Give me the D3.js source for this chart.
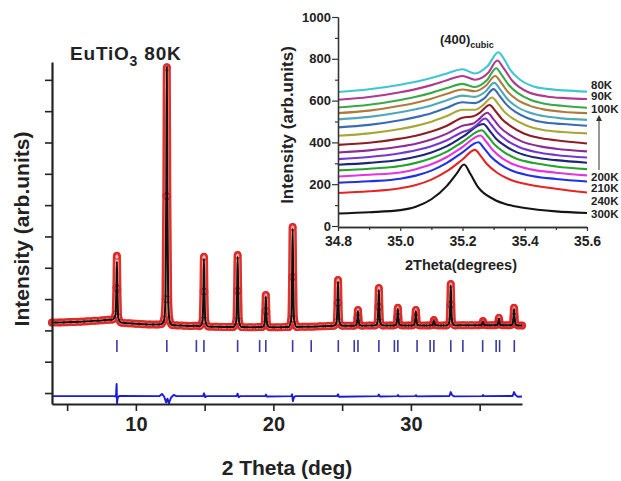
<!DOCTYPE html>
<html><head><meta charset="utf-8">
<script src="https://cdn.jsdelivr.net/npm/d3@7"></script>
<style>
html,body{margin:0;padding:0;background:#fff;}
svg{display:block;font-family:"Liberation Sans",Arial,Helvetica,sans-serif;font-weight:bold;}
</style></head><body>
<svg id="chart" width="621" height="481"></svg>
<script>
// ---------- Main pattern: EuTiO3 80K (Rietveld fit) ----------
const twoTheta = [
 3.9,4.5,5.0,5.5,6.0,6.5,7.0,7.5,8.0,
 8.32,8.52,8.58,8.62,8.66,8.72,8.92,
 9.5,10.0,10.5,11.0,11.5,
 11.85,12.05,12.15,12.21,12.25,12.29,12.35,12.45,12.65,
 13.0,13.5,14.0,14.4,
 14.65,14.85,14.91,14.95,14.99,15.05,15.25,
 15.8,16.4,16.9,
 17.1,17.3,17.36,17.4,17.44,17.5,17.7,
 18.3,18.9,
 19.15,19.35,19.41,19.45,19.49,19.55,19.75,
 20.3,20.8,
 21.1,21.3,21.36,21.4,21.44,21.5,21.7,
 22.3,22.8,23.4,24.0,
 24.4,24.6,24.66,24.7,24.74,24.8,25.0,
 25.5,
 25.85,26.05,26.11,26.15,26.19,26.25,26.45,
 27.0,
 27.37,27.57,27.63,27.67,27.71,27.77,27.97,
 28.5,
 28.75,28.95,29.01,29.05,29.09,29.15,29.35,
 29.85,
 30.06,30.26,30.32,30.36,30.40,30.46,30.66,
 31.2,
 31.37,31.57,31.63,31.67,31.71,31.77,31.97,
 32.4,
 32.6,32.8,32.86,32.9,32.94,33.0,33.2,
 33.8,34.4,
 34.94,35.14,35.2,35.24,35.28,35.34,35.54,
 35.9,
 36.1,36.3,36.36,36.4,36.44,36.5,36.7,
 37.0,
 37.2,37.4,37.46,37.5,37.54,37.6,37.8,
 38.08];
const obsI = [
 2250,2255,2262,2270,2280,2292,2305,2320,2340,
 2350,2512,3365,4380,3315,2420,2250,
 2225,2210,2200,2190,2185,
 2200,2350,3000,6290,10400,6280,2980,2330,2170,
 2160,2150,2140,2150,
 2135,2312,3242,4350,3237,2303,2125,
 2115,2110,2110,
 2110,2294,3260,4410,3257,2289,2105,
 2100,2105,
 2105,2187,2617,3130,2615,2182,2100,
 2100,2105,
 2105,2361,3702,5300,3705,2365,2110,
 2115,2120,2130,2140,
 2145,2262,2877,3610,2880,2267,2150,
 2150,
 2150,2190,2400,2650,2400,2190,2150,
 2155,
 2155,2250,2752,3350,2752,2250,2155,
 2160,
 2160,2205,2440,2720,2440,2205,2160,
 2160,
 2160,2199,2405,2650,2405,2199,2160,
 2160,
 2160,2174,2245,2330,2245,2174,2160,
 2160,
 2160,2266,2820,3480,2820,2266,2160,
 2165,2165,
 2165,2176,2232,2300,2232,2176,2165,
 2165,
 2165,2184,2282,2400,2282,2184,2165,
 2165,
 2165,2209,2442,2720,2442,2209,2160,
 2155];
const calcI = [
 2250,2255,2262,2270,2280,2292,2305,2320,2340,
 2350,2497,3270,4190,3220,2405,2250,
 2225,2210,2200,2190,2185,
 2200,2330,2950,6270,10420,6260,2950,2310,2170,
 2160,2150,2140,2150,
 2135,2307,3212,4290,3207,2298,2125,
 2115,2110,2110,
 2110,2289,3230,4350,3227,2285,2105,
 2100,2105,
 2105,2183,2592,3080,2590,2178,2100,
 2100,2105,
 2105,2357,3677,5250,3680,2361,2110,
 2115,2120,2130,2140,
 2145,2258,2852,3560,2855,2263,2150,
 2150,
 2150,2188,2385,2620,2385,2188,2150,
 2155,
 2155,2246,2727,3300,2727,2246,2155,
 2160,
 2160,2202,2425,2690,2425,2202,2160,
 2160,
 2160,2196,2390,2620,2390,2196,2160,
 2160,
 2160,2172,2235,2310,2235,2172,2160,
 2160,
 2160,2262,2800,3440,2800,2262,2160,
 2165,2165,
 2165,2174,2222,2280,2222,2174,2165,
 2165,
 2165,2181,2267,2370,2267,2181,2165,
 2165,
 2165,2206,2422,2680,2422,2206,2160,
 2155];
const diffX = [3.9,8.4,8.55,8.6,8.63,8.68,8.8,11.7,11.9,12.05,12.2,12.3,12.4,12.55,12.75,12.95,
 14.88,14.96,15.04,15.14,17.32,17.4,17.48,17.58,19.4,19.46,19.52,21.3,21.36,21.42,21.5,21.6,
 24.62,24.7,24.78,27.6,27.67,27.75,29.0,29.06,29.12,30.3,30.37,30.44,32.8,32.9,33.0,33.15,
 35.18,35.24,35.3,37.4,37.5,37.62,37.78,38.08];
const diffI = [-100,-100,-110,290,-330,-140,-95,-100,-30,-110,-300,-180,-330,-150,-60,-100,
 -100,-10,-130,-100,-100,-20,-130,-100,-100,-50,-110,-100,-40,-260,-130,-100,
 -100,-40,-120,-100,-50,-110,-100,-60,-105,-100,-70,-105,-95,30,-70,-105,
 -100,-60,-100,-95,30,-70,-120,-110];
const braggPos = [8.62,12.25,14.4,14.95,17.4,19.0,19.45,21.4,22.75,24.72,25.88,26.15,27.67,
 28.8,29.05,30.45,31.4,31.67,32.9,33.78,35.22,36.2,36.45,37.52];
const mainXTicks = [5,10,15,20,25,30,35];
const mainYTicks = [0,1000,2000,3000,4000,5000,6000,7000,8000,9000,10000];

// ---------- Inset: (400) cubic reflection vs temperature ----------
const s300 = [[34.8,60],[34.9,66],[35.0,76],[35.05,92],[35.1,128],[35.15,192],[35.18,248],[35.205,294],[35.225,250],[35.25,186],[35.3,128],[35.35,100],[35.4,86],[35.5,70],[35.6,62]];
const s240 = [[34.8,158],[34.9,166],[35.0,181],[35.05,196],[35.1,222],[35.15,262],[35.2,318],[35.24,364],[35.26,332],[35.28,294],[35.31,256],[35.35,224],[35.4,202],[35.5,178],[35.6,160]];
const s210 = [[34.8,207],[34.9,214],[35.0,226],[35.05,241],[35.1,265],[35.15,302],[35.2,352],[35.251,401],[35.27,370],[35.29,334],[35.32,296],[35.36,264],[35.41,243],[35.5,225],[35.6,213]];
const s200 = [[34.8,237],[34.9,245],[35.0,256],[35.05,272],[35.1,295],[35.15,330],[35.2,378],[35.257,433],[35.277,402],[35.297,364],[35.327,325],[35.367,293],[35.42,271],[35.5,255],[35.6,242]];
const s190 = [[34.8,266],[34.9,274],[35.0,287],[35.05,302],[35.1,324],[35.15,356],[35.2,402],[35.262,458],[35.282,428],[35.302,391],[35.332,355],[35.372,323],[35.43,301],[35.5,285],[35.6,272]];
const s180 = [[34.8,293],[34.9,302],[35.0,317],[35.05,331],[35.1,352],[35.15,382],[35.2,426],[35.267,488],[35.287,456],[35.307,419],[35.337,383],[35.377,351],[35.43,329],[35.5,315],[35.6,303]];
const s170 = [[34.8,320],[34.9,330],[35.0,348],[35.05,362],[35.1,382],[35.15,410],[35.2,450],[35.225,462],[35.243,480],[35.273,514],[35.293,483],[35.313,446],[35.343,409],[35.383,377],[35.44,353],[35.5,340],[35.6,328]];
const s160 = [[34.8,352],[34.9,362],[35.0,380],[35.05,394],[35.1,414],[35.15,442],[35.2,480],[35.235,490],[35.25,507],[35.28,542],[35.3,510],[35.32,473],[35.35,437],[35.39,405],[35.45,381],[35.5,370],[35.6,357]];
const s150 = [[34.8,388],[34.9,398],[35.0,418],[35.05,432],[35.1,452],[35.15,480],[35.2,518],[35.235,525],[35.257,544],[35.287,579],[35.307,548],[35.327,511],[35.357,476],[35.397,443],[35.45,421],[35.5,410],[35.6,395]];
const s140 = [[34.8,432],[34.9,443],[35.0,464],[35.05,479],[35.1,499],[35.15,526],[35.2,556],[35.24,556],[35.265,577],[35.295,615],[35.315,583],[35.335,546],[35.365,511],[35.405,481],[35.46,459],[35.52,450],[35.6,443]];
const s130 = [[34.8,472],[34.9,484],[35.0,506],[35.05,521],[35.1,540],[35.15,566],[35.2,592],[35.24,588],[35.27,611],[35.3,655],[35.32,621],[35.34,583],[35.37,546],[35.41,516],[35.46,496],[35.52,488],[35.6,480]];
const s120 = [[34.8,510],[34.9,522],[35.0,544],[35.05,559],[35.1,577],[35.15,602],[35.2,624],[35.24,618],[35.272,641],[35.302,685],[35.322,651],[35.342,611],[35.372,573],[35.412,544],[35.46,526],[35.52,515],[35.6,508]];
const s110 = [[34.8,540],[34.9,552],[35.0,575],[35.05,590],[35.1,609],[35.15,633],[35.2,653],[35.24,645],[35.275,671],[35.305,718],[35.325,684],[35.345,643],[35.375,605],[35.415,576],[35.46,558],[35.52,547],[35.6,540]];
const s100 = [[34.8,567],[34.9,580],[35.0,603],[35.05,618],[35.1,637],[35.15,660],[35.2,680],[35.24,665],[35.278,697],[35.308,755],[35.328,718],[35.348,676],[35.378,636],[35.418,604],[35.46,586],[35.52,575],[35.6,566]];
const s90 = [[34.8,604],[34.9,617],[35.0,640],[35.05,655],[35.1,674],[35.15,697],[35.2,718],[35.24,700],[35.282,732],[35.312,792],[35.332,755],[35.36,695],[35.41,641],[35.47,620],[35.53,612],[35.6,608]];
const s80 = [[34.8,641],[34.9,654],[35.0,676],[35.05,690],[35.1,708],[35.15,730],[35.2,750],[35.24,730],[35.28,764],[35.315,831],[35.335,795],[35.353,748],[35.385,700],[35.428,668],[35.47,656],[35.525,649],[35.6,643]];
const insetTemps = ['300K','240K','210K','200K','190K','180K','170K','160K','150K','140K','130K','120K','110K','100K','90K','80K'];
const insetData = [s300,s240,s210,s200,s190,s180,s170,s160,s150,s140,s130,s120,s110,s100,s90,s80];
const insetColors = ['#141414','#e62424','#2030e6','#e434e0','#24a42c','#1e2478','#7438d0','#8e2c94','#8e1e26','#a8a634','#3a6cb2','#4fa8b8','#b07a3a','#3aa84a','#b03a8c','#3ec6d2'];
const insetXTicks = [34.8,35.0,35.2,35.4,35.6];
const insetXMinor = [34.9,35.1,35.3,35.5];
const insetYTicks = [0,200,400,600,800,1000];
const insetYMinor = [100,300,500,700,900];
const shownLabels = ['80K','90K','100K','200K','210K','240K','300K'];

// ---------- drawing ----------
const svg = d3.select('#chart');
svg.append('rect').attr('width',621).attr('height',481).attr('fill','#fff');

const x = d3.scaleLinear().domain([3.9, 38.08]).range([52, 522]);
const y = d3.scaleLinear().domain([-350, 10570]).range([404, 62]);
const line = d3.line().x(d=>x(d[0])).y(d=>y(d[1])).curve(d3.curveMonotoneX);

const main = svg.append('g');
const obsPts = twoTheta.map((t,i)=>[t, obsI[i]]);
const calcPts = twoTheta.map((t,i)=>[t, calcI[i]]);

main.append('path').attr('d', line(obsPts)).attr('fill','none')
  .attr('stroke','#e3302b').attr('stroke-width',8).attr('stroke-linejoin','round').attr('stroke-linecap','round');
main.append('path').attr('d', line(obsPts)).attr('fill','none')
  .attr('stroke','#f6b8b2').attr('stroke-width',3).attr('stroke-linejoin','round');
main.append('g').selectAll('circle').data(obsPts).join('circle')
  .attr('cx',d=>x(d[0])).attr('cy',d=>y(d[1])).attr('r',3.4)
  .attr('fill','none').attr('stroke','#d8262a').attr('stroke-width',1);
main.append('path').attr('d', line(calcPts)).attr('fill','none')
  .attr('stroke','#111').attr('stroke-width',2).attr('stroke-linejoin','round');

main.append('g').selectAll('line').data(braggPos).join('line')
  .attr('x1',d=>x(d)).attr('x2',d=>x(d)).attr('y1',y(1690)).attr('y2',y(1310))
  .attr('stroke','#3a3aa6').attr('stroke-width',1.6);

const diffLine = d3.line().x((d,i)=>x(diffX[i])).y(d=>y(d));
main.append('path').attr('d', diffLine(diffI)).attr('fill','none')
  .attr('stroke','#1c1cd6').attr('stroke-width',1.9).attr('stroke-linejoin','round');

// main axes
const ax = main.append('g').attr('transform','translate(0,404)')
  .call(d3.axisBottom(x).tickValues(mainXTicks).tickFormat(d=> d%10===0 ? d : '').tickSize(7).tickSizeOuter(0).tickPadding(6));
const ay = main.append('g').attr('transform','translate(52,0)')
  .call(d3.axisLeft(y).tickValues(mainYTicks).tickFormat('').tickSize(7).tickSizeOuter(0));
[ax,ay].forEach(a=>{
  a.select('.domain').attr('stroke','#222').attr('stroke-width',2.2);
  a.selectAll('.tick line').attr('stroke','#222').attr('stroke-width',1.6);
  a.selectAll('text').attr('fill','#222').style('font-size','20px').style('font-weight','bold')
   .style('font-family','"Liberation Sans",Arial,sans-serif');
});

main.append('text').attr('x',287).attr('y',475).attr('text-anchor','middle')
  .attr('fill','#222').style('font-size','21px').text('2 Theta (deg)');
main.append('text').attr('transform','translate(29,229) rotate(-90)').attr('text-anchor','middle')
  .attr('fill','#222').style('font-size','21px').text('Intensity (arb.units)');
const title = main.append('text').attr('x',70).attr('y',60).attr('fill','#222')
  .style('font-size','19px').style('letter-spacing','0.8px');
title.append('tspan').text('EuTiO');
title.append('tspan').attr('dy',6).style('font-size','14px').text('3');
title.append('tspan').attr('dy',-6).text(' 80K');

// ---------- inset ----------
const ix = d3.scaleLinear().domain([34.8, 35.6]).range([338, 587]);
const iy = d3.scaleLinear().domain([0, 1000]).range([226, 17]);
const iline = d3.line().x(d=>ix(d[0])).y(d=>iy(d[1])).curve(d3.curveMonotoneX);
const inset = svg.append('g');

inset.selectAll('path.curve').data(insetData).join('path').attr('class','curve')
  .attr('d', d=>iline(d)).attr('fill','none')
  .attr('stroke',(d,i)=>insetColors[i]).attr('stroke-width',2.1).attr('stroke-linejoin','round');

const iax = inset.append('g').attr('transform','translate(0,227)')
  .call(d3.axisBottom(ix).tickValues(insetXTicks).tickFormat(d3.format('.1f')).tickSize(4).tickSizeOuter(0).tickPadding(5));
const iaxm = inset.append('g').attr('transform','translate(0,227)')
  .call(d3.axisBottom(ix).tickValues(insetXMinor).tickFormat('').tickSize(3).tickSizeOuter(0));
const iay = inset.append('g').attr('transform','translate(338,0)')
  .call(d3.axisLeft(iy).tickValues(insetYTicks).tickFormat(d3.format('d')).tickSize(6).tickSizeOuter(0).tickPadding(1));
const iaym = inset.append('g').attr('transform','translate(338,0)')
  .call(d3.axisLeft(iy).tickValues(insetYMinor).tickFormat('').tickSize(3).tickSizeOuter(0));
[iax,iaxm,iay,iaym].forEach(a=>{
  a.select('.domain').attr('stroke','#333').attr('stroke-width',1.3);
  a.selectAll('.tick line').attr('stroke','#333').attr('stroke-width',1.2);
  a.selectAll('text').attr('fill','#222').style('font-weight','bold')
   .style('font-family','"Liberation Sans",Arial,sans-serif');
});
iax.selectAll('text').style('font-size','14px');
iay.selectAll('text').style('font-size','13px');

inset.append('text').attr('x',461).attr('y',270).attr('text-anchor','middle')
  .attr('fill','#222').style('font-size','14.5px').text('2Theta(degrees)');
inset.append('text').attr('transform','translate(293,125) rotate(-90)').attr('text-anchor','middle')
  .attr('fill','#222').style('font-size','17px').text('Intensity (arb.units)');
const it = inset.append('text').attr('x',440).attr('y',44).attr('fill','#222').style('font-size','13px');
it.append('tspan').text('(400)');
it.append('tspan').attr('dy',4).style('font-size','9px').text('cubic');

// temperature labels at right end
const labelY = {'80K':85,'90K':96,'100K':109,'200K':177,'210K':188,'240K':201,'300K':214};
inset.selectAll('text.tl').data(shownLabels).join('text').attr('class','tl')
  .attr('x',591).attr('y',d=>labelY[d]+4).attr('fill','#222').style('font-size','11.5px')
  .text(d=>d);
svg.append('defs').append('marker').attr('id','ah').attr('viewBox','0 0 10 10')
  .attr('refX',5).attr('refY',5).attr('markerWidth',6).attr('markerHeight',7).attr('orient','auto')
  .append('path').attr('d','M0,0 L10,5 L0,10 Z').attr('fill','#333');
inset.append('line').attr('x1',599).attr('x2',599).attr('y1',170).attr('y2',118)
  .attr('stroke','#333').attr('stroke-width',1).attr('marker-end','url(#ah)');
</script>
</body></html>
